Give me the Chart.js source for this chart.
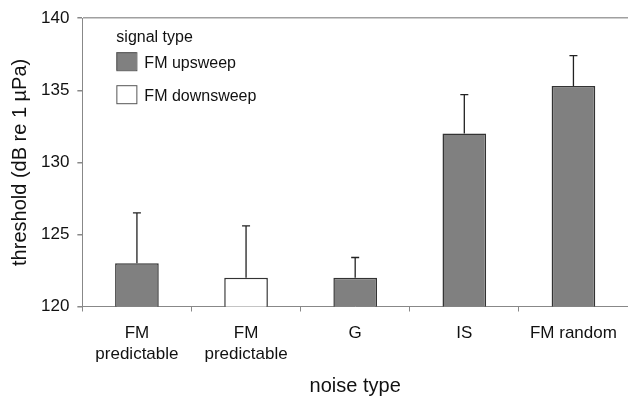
<!DOCTYPE html>
<html>
<head>
<meta charset="utf-8">
<script src="https://cdn.jsdelivr.net/npm/chart.js@4.4.1/dist/chart.umd.min.js"></script>
<style>
  html, body { margin: 0; padding: 0; background: #fff; }
  #wrap { width: 628px; height: 396px; }
</style>
</head>
<body>
<div id="wrap"><canvas id="thresholdChart" width="628" height="396"></canvas></div>
<script>
// noise types (multi-line tick labels)
var noiseTypes = [["FM", "predictable"], ["FM", "predictable"], "G", "IS", "FM random"];
// thresholds per signal type, null where the signal type was not tested
var upsweep   = [123, null, 122, 132, 135.3];
var downsweep = [null, 122, null, null, null];
// upper error (top of whisker)
var errTop    = [126.5, 125.6, 123.4, 134.7, 137.4];
var yTicks    = [120, 125, 130, 135, 140];

var FONT = "'Liberation Sans', Arial, sans-serif";

// whiskers above each bar
var errorBarsPlugin = {
    id: 'errorBars',
    afterDatasetsDraw: function (chart) {
        var ctx = chart.ctx, x = chart.scales.x, y = chart.scales.y;
        ctx.save();
        ctx.strokeStyle = '#222';
        ctx.lineWidth = 1.3;
        errTop.forEach(function (e, i) {
            var v = upsweep[i] != null ? upsweep[i] : downsweep[i];
            var px = x.getPixelForValue(i);
            var y0 = y.getPixelForValue(v), y1 = y.getPixelForValue(e);
            ctx.beginPath();
            ctx.moveTo(px, y0); ctx.lineTo(px, y1);
            ctx.moveTo(px - 4, y1); ctx.lineTo(px + 4, y1);
            ctx.stroke();
        });
        ctx.restore();
    }
};

// legend inside the plot, top-left
var insideLegend = {
    id: 'insideLegend',
    afterDraw: function (chart) {
        var ctx = chart.ctx, a = chart.chartArea;
        var lx = a.left + 34, ly = a.top + 19;
        ctx.save();
        ctx.font = '16px ' + FONT;
        ctx.fillStyle = '#111';
        ctx.textBaseline = 'middle';
        ctx.fillText('signal type', lx, ly);
        chart.data.datasets.forEach(function (ds, i) {
            var by = ly + 15 + i * 33;
            ctx.fillStyle = ds.backgroundColor;
            ctx.fillRect(lx, by, 20, 18);
            ctx.strokeStyle = '#555';
            ctx.lineWidth = 1;
            ctx.strokeRect(lx + 0.5, by + 0.5, 20, 18);
            ctx.fillStyle = '#111';
            ctx.fillText(ds.label, lx + 28, by + 11);
        });
        ctx.restore();
    }
};

new Chart(document.getElementById('thresholdChart').getContext('2d'), {
    type: 'bar',
    data: {
        labels: noiseTypes,
        datasets: [
            { label: 'FM upsweep', data: upsweep, backgroundColor: '#808080', borderColor: '#333', borderWidth: 1.5 },
            { label: 'FM downsweep', data: downsweep, backgroundColor: '#ffffff', borderColor: '#333', borderWidth: 1.5 }
        ]
    },
    options: {
        responsive: false,
        animation: false,
        grouped: false,
        barPercentage: 0.4,
        categoryPercentage: 1,
        layout: { padding: { top: 15, right: 0, left: 6, bottom: 0 } },
        plugins: { legend: { display: false }, tooltip: { enabled: false } },
        scales: {
            x: {
                offset: true,
                grid: { display: true, drawOnChartArea: false, offset: true, color: '#888', tickLength: 5 },
                border: { color: '#888', width: 1 },
                ticks: { color: '#111', font: { family: FONT, size: 17, lineHeight: 1.25 }, padding: 11, maxRotation: 0 },
                title: { display: true, text: 'noise type', color: '#111', font: { family: FONT, size: 20, lineHeight: 1 }, padding: { top: 0, bottom: 0 } }
            },
            y: {
                min: 120, max: 140,
                afterBuildTicks: function (s) { s.ticks = yTicks.map(function (v) { return { value: v }; }); },
                grid: {
                    color: function (c) { return c.tick && c.tick.value === 140 ? '#a0a0a0' : 'rgba(0,0,0,0)'; },
                    tickColor: '#888', tickLength: 5, lineWidth: 1.5
                },
                border: { color: '#888', width: 1 },
                ticks: { color: '#111', font: { family: FONT, size: 17 }, padding: 8 },
                title: { display: true, text: 'threshold (dB re 1 µPa)', color: '#111', font: { family: FONT, size: 20 }, padding: { top: 2, bottom: 1 } }
            }
        }
    },
    plugins: [errorBarsPlugin, insideLegend]
});
</script>
</body>
</html>
